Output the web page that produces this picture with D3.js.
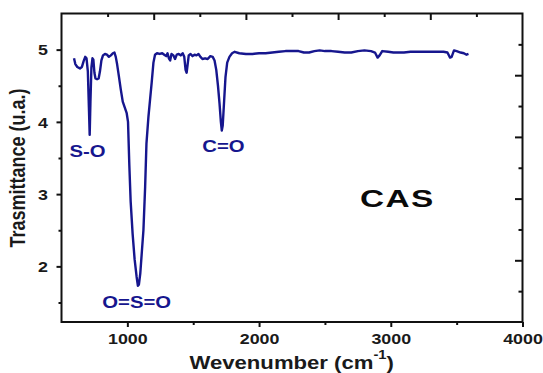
<!DOCTYPE html>
<html lang="en">
<head>
<meta charset="utf-8">
<title>CAS FTIR</title>
<script src="https://d3js.org/d3.v7.min.js"></script>
<style>
  body { margin: 0; background: #fff; }
  svg text { font-family: "Liberation Sans", Arial, sans-serif; font-weight: bold; }
</style>
</head>
<body>
<svg id="chart" width="543" height="373"></svg>
<script>
// spectrum
var wavenumber = [595,605,620,640,655,668,680,690,700,708,714,720,727,735,742,750,758,770,782,792,
  803,815,830,845,860,875,890,902,912,922,935,950,965,980,995,1005,1015,1025,1040,1055,
  1070,1080,1088,1098,1110,1122,1135,1145,1160,1172,1185,1198,1210,1225,1245,1265,1280,1295,1305,1315,
  1325,1335,1350,1362,1375,1390,1405,1420,1432,1442,1450,1458,1466,1480,1495,1510,1525,1540,1555,1570,
  1590,1610,1630,1648,1662,1675,1688,1700,1710,1717,1724,1735,1745,1758,1775,1795,1815,1850,1900,1950,
  2000,2050,2100,2150,2200,2250,2300,2340,2380,2420,2460,2500,2550,2600,2650,2700,2750,2800,2850,2880,
  2900,2915,2935,2980,3020,3060,3100,3150,3200,3250,3300,3350,3400,3430,3450,3462,3480,3500,3530,3555,
  3575,3590];
var transmittance = [4.88,4.80,4.76,4.74,4.76,4.84,4.90,4.88,4.70,4.20,3.82,4.30,4.75,4.88,4.86,4.68,4.60,4.59,4.60,4.70,
  4.85,4.92,4.94,4.93,4.90,4.92,4.95,4.96,4.90,4.80,4.64,4.45,4.28,4.20,4.12,4.00,3.40,2.90,2.45,2.10,
  1.86,1.73,1.75,1.90,2.20,2.50,3.10,3.70,4.07,4.30,4.55,4.82,4.93,4.95,4.94,4.95,4.93,4.91,4.95,4.88,
  4.85,4.94,4.92,4.87,4.93,4.94,4.92,4.95,4.90,4.72,4.68,4.80,4.92,4.94,4.91,4.93,4.92,4.94,4.90,4.87,
  4.88,4.87,4.91,4.90,4.85,4.72,4.50,4.25,4.00,3.88,3.95,4.30,4.62,4.82,4.90,4.95,4.97,4.95,4.94,4.94,
  4.95,4.95,4.96,4.97,4.98,4.98,4.98,4.96,4.96,4.98,4.99,4.98,4.98,4.97,4.96,4.96,4.98,4.99,4.98,4.96,
  4.89,4.92,4.98,4.97,4.96,4.96,4.96,4.97,4.97,4.97,4.97,4.97,4.97,4.96,4.89,4.90,4.99,4.98,4.96,4.95,
  4.93,4.94];

var xTicks = [1000, 2000, 3000, 4000];
var xMinor = [1500, 2500, 3500];
var yTicks = [2, 3, 4, 5];
var yMinor = [1.5, 2.5, 3.5, 4.5];
// top / right axes in the original are not aligned with bottom / left
var topTicks = [1200, 1900, 2600, 3300];
var topMinor = [850, 1550, 2250, 2950, 3650];
var rightTicks = [1, 2, 3, 4];
var rightMinor = [0.5, 1.5, 2.5, 3.5, 4.5];

var bandLabels = ['S-O', 'O=S=O', 'C=O'];
var bandX = [697, 1071, 1729];
var bandY = [3.51, 1.42, 3.58];

var navy = '#16168e';
var SX = 1.23; // picture is stretched sideways

var svg = d3.select('#chart');
var pL = 61.5, pR = 522.5, pT = 13.5, pB = 322;

var x = d3.scaleLinear().domain([500, 4000]).range([pL, pR]);
var y = d3.scaleLinear().domain([1.23, 5.5]).range([pB, pT]);
var yR = d3.scaleLinear().domain([0, 5]).range([pB, pT]);

function tidy(g) {
  g.select('.domain').remove();
  g.selectAll('.tick line').attr('stroke', '#111').attr('stroke-width', 2);
}

// bottom
svg.append('g').attr('transform', 'translate(0,' + pB + ')')
  .call(d3.axisBottom(x).tickValues(xMinor).tickSize(3).tickFormat(''))
  .call(tidy);
svg.append('g').attr('transform', 'translate(0,' + pB + ')')
  .call(d3.axisBottom(x).tickValues(xTicks).tickSize(5).tickFormat(d3.format('d')))
  .call(tidy)
  .call(function(g) {
    g.selectAll('text').attr('y', 22).attr('dy', null)
      .attr('font-size', 14.5).attr('fill', '#1a1a1a')
      .attr('transform', 'scale(' + SX + ',1)');
  });

// left
svg.append('g').attr('transform', 'translate(' + pL + ',0)')
  .call(d3.axisLeft(y).tickValues(yMinor).tickSize(3).tickFormat(''))
  .call(tidy);
svg.append('g').attr('transform', 'translate(' + pL + ',0)')
  .call(d3.axisLeft(y).tickValues(yTicks).tickSize(5).tickFormat(d3.format('d')))
  .call(tidy)
  .call(function(g) {
    g.selectAll('text').attr('x', 0).attr('dy', '0.36em')
      .attr('font-size', 14.5).attr('fill', '#1a1a1a')
      .attr('transform', 'translate(-13.5,0) scale(' + SX + ',1)');
  });

// top (inward)
svg.append('g').attr('transform', 'translate(0,' + pT + ')')
  .call(d3.axisBottom(x).tickValues(topMinor).tickSize(3.5).tickFormat(''))
  .call(tidy);
svg.append('g').attr('transform', 'translate(0,' + pT + ')')
  .call(d3.axisBottom(x).tickValues(topTicks).tickSize(6.5).tickFormat(''))
  .call(tidy);

// right (inward)
svg.append('g').attr('transform', 'translate(' + pR + ',0)')
  .call(d3.axisLeft(yR).tickValues(rightMinor).tickSize(4).tickFormat(''))
  .call(tidy);
svg.append('g').attr('transform', 'translate(' + pR + ',0)')
  .call(d3.axisLeft(yR).tickValues(rightTicks).tickSize(7.5).tickFormat(''))
  .call(tidy);

svg.append('rect')
  .attr('x', pL).attr('y', pT)
  .attr('width', pR - pL).attr('height', pB - pT)
  .attr('fill', 'none').attr('stroke', '#111').attr('stroke-width', 2);

// spectrum
var line = d3.line()
  .x(function(d, i) { return x(wavenumber[i]); })
  .y(function(d) { return y(d); });

svg.append('path')
  .datum(transmittance)
  .attr('d', line)
  .attr('fill', 'none')
  .attr('stroke', navy)
  .attr('stroke-width', 2.4)
  .attr('stroke-linejoin', 'round');

// band labels
svg.append('g').selectAll('text')
  .data(bandLabels)
  .enter().append('text')
  .attr('transform', function(d, i) {
    return 'translate(' + x(bandX[i]) + ',' + y(bandY[i]) + ') scale(' + SX + ',1)';
  })
  .attr('text-anchor', 'middle')
  .attr('font-size', 16.5)
  .attr('fill', navy)
  .text(function(d) { return d; });

svg.append('text')
  .attr('transform', 'translate(360,207.3) scale(1.42,1)')
  .attr('font-size', 23.5)
  .attr('letter-spacing', 1)
  .attr('fill', '#0a0a0a')
  .text('CAS');

// axis titles
var xt = svg.append('text')
  .attr('transform', 'translate(291.7,369.2) scale(' + SX + ',1)')
  .attr('text-anchor', 'middle')
  .attr('font-size', 18)
  .attr('fill', '#1a1a1a');
xt.append('tspan').text('Wevenumber (cm');
xt.append('tspan').attr('font-size', 12).attr('dy', -10).text('-1');
xt.append('tspan').attr('dy', 10).text(')');

svg.append('text')
  .attr('transform', 'translate(25,168) scale(' + SX + ',1) rotate(-90)')
  .attr('text-anchor', 'middle')
  .attr('font-size', 18)
  .attr('fill', '#1a1a1a')
  .text('Trasmittance (u.a.)');
</script>
</body>
</html>
